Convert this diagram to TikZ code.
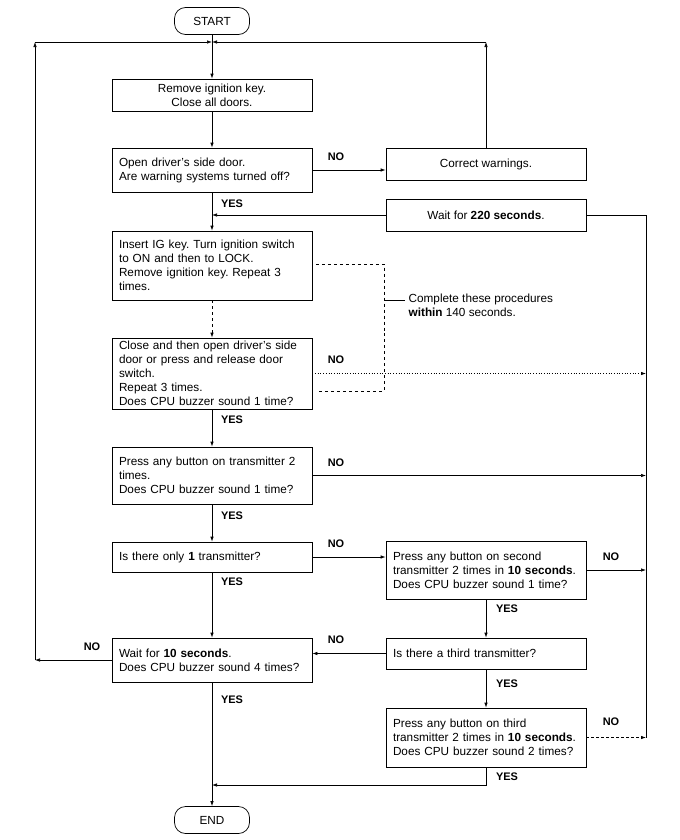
\documentclass[tikz,border=0pt]{standalone}
\usepackage{fontspec}
\setmainfont{Liberation Sans}
\usetikzlibrary{arrows.meta}
\frenchspacing

\begin{document}
\begin{tikzpicture}[x=1bp,y=-1bp,line width=0.7bp,
  every node/.style={font=\fontsize{11.8}{14}\selectfont},
  box/.style={draw,minimum width=200bp,inner sep=0pt},
  lbox/.style={box,align=left,text width=186bp},
  cbox/.style={box,align=center},
  term/.style={draw,rounded corners=11bp,minimum width=75bp,minimum height=27bp},
  lab/.style={font=\fontsize{11}{12}\selectfont\bfseries},
  flow/.style={-{Latex[length=5bp,width=3.5bp]}}]
\useasboundingbox (0,0) rectangle (680,840);
% main column
\node[term] (start) at (212,21) {START};
\node[cbox,minimum height=32bp] (remove) at (212,95) {Remove ignition key.\\Close all doors.};
\node[lbox,minimum height=44bp] (opendoor) at (212,170) {Open driver's side door.\\Are warning systems turned off?};
\node[lbox,minimum height=69bp] (insertkey) at (212,265.5) {Insert IG key. Turn ignition switch\\to ON and then to LOCK.\\Remove ignition key. Repeat 3\\times.};
\node[lbox,minimum height=71bp] (cycledoor) at (212,373.5) {Close and then open driver's side\\door or press and release door\\switch.\\Repeat 3 times.\\Does CPU buzzer sound 1 time?};
\node[lbox,minimum height=57bp] (pressone) at (212,475.5) {Press any button on transmitter 2\\times.\\Does CPU buzzer sound 1 time?};
\node[lbox,minimum height=30bp] (onlyone) at (212,557) {Is there only \textbf{1} transmitter?};
\node[lbox,minimum height=44bp] (wait10) at (212,660) {Wait for \textbf{10 seconds}.\\Does CPU buzzer sound 4 times?};
\node[term] (end) at (212,820) {END};
% right column
\node[cbox,minimum height=32bp] (correct) at (486,164) {Correct warnings.};
\node[cbox,minimum height=32bp] (wait220) at (486,215) {Wait for \textbf{220 seconds}.};
\node[lbox,minimum height=58bp] (presssecond) at (486,570) {Press any button on second\\transmitter 2 times in \textbf{10 seconds}.\\Does CPU buzzer sound 1 time?};
\node[lbox,minimum height=31bp] (thirdq) at (486,653.5) {Is there a third transmitter?};
\node[lbox,minimum height=59bp] (pressthird) at (486,737.5) {Press any button on third\\transmitter 2 times in \textbf{10 seconds}.\\Does CPU buzzer sound 2 times?};
\node[anchor=west,align=left] (note) at (405,305) {Complete these procedures\\\textbf{within} 140 seconds.};
% corner points
\coordinate (join) at (212,42);
\coordinate (lefttop) at (35,42);
\coordinate (leftbot) at (35,660);
\coordinate (righttop) at (486,42);
\coordinate (wait220in) at (212,215);
\coordinate (rtop) at (646,215);
\coordinate (rbot) at (646,737.5);
\coordinate (merge) at (212,785);
\coordinate (br1) at (316,264);
\coordinate (br2) at (384,264);
\coordinate (br3) at (384,391);
\coordinate (br4) at (316,391);
\coordinate (brmid) at (384,300);
% connectors
\draw[flow] (start) -- (remove);
\draw[flow] (remove) -- (opendoor);
\draw[flow] (opendoor.east) -- (opendoor.east -| correct.west);
\draw[flow] (correct) -- (righttop);
\draw[flow] (righttop) -- (join);
\draw[flow] (opendoor) -- (insertkey);
\draw[flow] (wait220) -- (wait220in);
\draw (wait220.east) -- (rtop) -- (rbot);
\draw[flow,dashed] (insertkey) -- (cycledoor);
\draw[dashed] (br1) -- (br2) -- (br3) -- (br4);
\draw (brmid) -- (brmid -| note.west);
\draw[flow,dotted] (cycledoor) -- (cycledoor -| rtop);
\draw[flow] (cycledoor) -- (pressone);
\draw[flow] (pressone) -- (pressone -| rtop);
\draw[flow] (pressone) -- (onlyone);
\draw[flow] (onlyone) -- (onlyone -| presssecond.west);
\draw[flow] (presssecond) -- (presssecond -| rtop);
\draw[flow] (onlyone) -- (wait10);
\draw[flow] (presssecond) -- (thirdq);
\draw[flow] (thirdq) -- (thirdq -| wait10.east);
\draw[flow] (thirdq) -- (pressthird);
\draw[flow] (wait10) -- (leftbot);
\draw[flow] (leftbot) -- (lefttop);
\draw[flow] (lefttop) -- (join);
\draw[flow] (wait10) -- (end);
\draw[flow,densely dashed] (pressthird) -- (pressthird -| rtop);
\draw[flow] (pressthird) |- (merge);
% branch labels
\node[lab] (no1) at (336,157) {NO};
\node[lab] (yes1) at (232,204) {YES};
\node[lab] (no2) at (336,360) {NO};
\node[lab] (yes2) at (232,420) {YES};
\node[lab] (no3) at (336,463) {NO};
\node[lab] (yes3) at (232,516) {YES};
\node[lab] (no4) at (336,544) {NO};
\node[lab] (yes4) at (232,582) {YES};
\node[lab] (no5) at (611,557) {NO};
\node[lab] (yes5) at (507,609) {YES};
\node[lab] (no6) at (336,640) {NO};
\node[lab] (yes6) at (507,684) {YES};
\node[lab] (no7) at (92,647) {NO};
\node[lab] (yes7) at (232,700) {YES};
\node[lab] (no8) at (611,722) {NO};
\node[lab] (yes8) at (507,777) {YES};
\end{tikzpicture}
\end{document}
